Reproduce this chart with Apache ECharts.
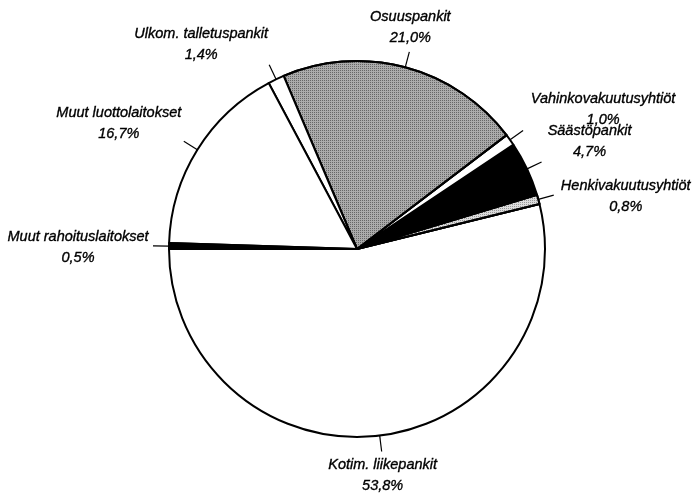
<!DOCTYPE html>
<html>
<head>
<meta charset="utf-8">
<script src="https://cdn.jsdelivr.net/npm/echarts@6/dist/echarts.min.js"></script>
<style>
html,body{margin:0;padding:0;background:#fff;}
#chart{width:693px;height:497px;}
</style>
</head>
<body>
<div id="chart"></div>
<script>
// Data (counter-clockwise order starting at 9 o'clock)
const categories = [
  'Kotim. liikepankit',
  'Henkivakuutusyhtiöt',
  'Säästöpankit',
  'Vahinkovakuutusyhtiöt',
  'Osuuspankit',
  'Ulkom. talletuspankit',
  'Muut luottolaitokset',
  'Muut rahoituslaitokset'
];
const shares = [53.8, 0.8, 4.7, 1.0, 21.0, 1.4, 16.7, 0.5];

// Styles (kept separate from data)
const fills = ['#ffffff', '#dcdcdc', '#000000', '#ffffff', '#ababab', '#ffffff', '#ffffff', '#000000'];
const dotAlpha = [0, 0.3, 0, 0, 0.4, 0, 0, 0];
// label block offsets from the end of each leader line
const labelOffsets = [[1, 24], [72, 1], [48, -21], [80, -21], [1, -24], [-68, -20], [-65, -18], [-75, 2]];

function stipple(alpha) {
  return {
    symbol: 'rect',
    symbolSize: 1,
    dashArrayX: [1, 1],
    dashArrayY: [1, 1],
    rotation: 0,
    color: 'rgba(0,0,0,' + alpha + ')'
  };
}

const chart = echarts.init(document.getElementById('chart'), null, {renderer: 'canvas'});
chart.setOption({
  backgroundColor: '#ffffff',
  animation: false,
  series: [{
    type: 'pie',
    center: [357, 249],
    radius: [0, 188],
    startAngle: 180,
    clockwise: false,
    avoidLabelOverlap: false,
    minShowLabelAngle: 0,
    itemStyle: {borderColor: '#000', borderWidth: 2},
    label: {
      show: true,
      position: 'outside',
      fontFamily: 'Liberation Sans, Arial, sans-serif',
      fontStyle: 'italic',
      fontSize: 14.5,
      lineHeight: 21,
      color: '#000',
      textBorderColor: '#000',
      textBorderWidth: 0.35,
      align: 'center',
      formatter: p => p.name + '\n' + p.value.toFixed(1).replace('.', ',') + '%'
    },
    labelLine: {
      show: true,
      length: 16,
      length2: 0,
      smooth: false,
      lineStyle: {color: '#000', width: 1.2}
    },
    labelLayout: function (params) {
      const i = params.dataIndex;
      const pts = params.labelLinePoints;
      const end = pts[1];
      return {
        x: end[0] + labelOffsets[i][0],
        y: end[1] + labelOffsets[i][1],
        align: 'center',
        verticalAlign: 'middle',
        labelLinePoints: [pts[0], pts[1]]
      };
    },
    emphasis: {disabled: true},
    data: categories.map((name, i) => {
      const style = {color: fills[i]};
      if (dotAlpha[i] > 0) style.decal = stipple(dotAlpha[i]);
      return {name: name, value: shares[i], itemStyle: style};
    })
  }]
});
</script>
</body>
</html>
